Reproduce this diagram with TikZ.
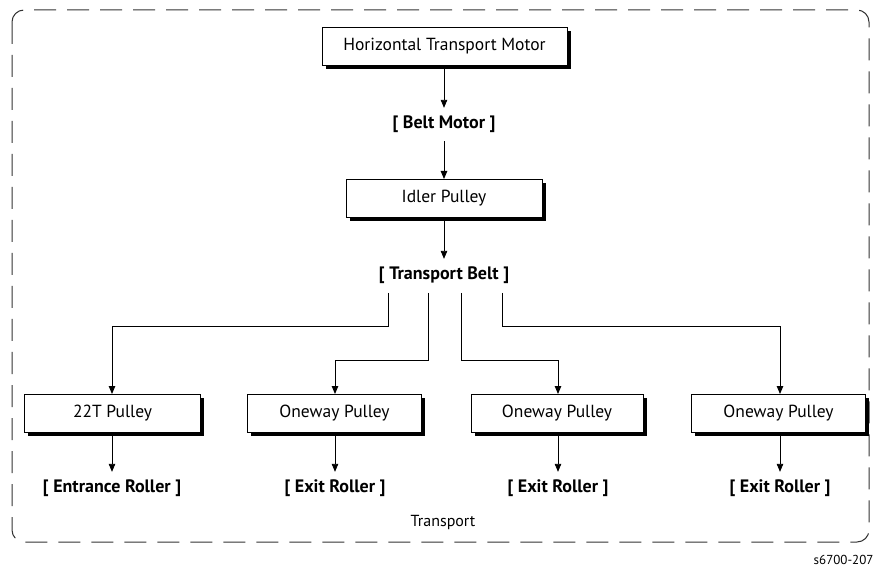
\documentclass[tikz,border=0pt]{standalone}
\usepackage{fontspec}
\setmainfont{PT Sans}
\usetikzlibrary{arrows.meta,shadows}
\begin{document}
\begin{tikzpicture}[x=1pt,y=-1pt,
  box/.style={draw,line width=1pt,fill=white,minimum height=38pt,inner sep=0pt,font=\fontsize{17.5}{20}\selectfont,
    drop shadow={shadow xshift=3.5pt,shadow yshift=-3.5pt,fill=black,opacity=1}},
  lbl/.style={font=\bfseries\fontsize{18}{21}\selectfont,inner xsep=1pt,inner ysep=8pt},
  conn/.style={line width=0.9pt},
  arr/.style={conn,-{Triangle[length=8pt,width=6.5pt]}}]
\useasboundingbox (0,0) rectangle (879,572);
\draw[line width=1pt,dash pattern=on 22pt off 11pt,rounded corners=12pt,draw=black!80] (12,10) rectangle (869,542);
\node[box,minimum width=245pt] (htm) at (444.5,46.5) {Horizontal Transport Motor};
\node[lbl] (bm) at (444,124.5) {[ Belt Motor ]};
\node[box,minimum width=196pt] (idl) at (444,198.5) {Idler Pulley};
\node[lbl] (tb) at (444,275.5) {[ Transport Belt ]};
\node[box,minimum width=176pt] (p1) at (112.5,413.5) {22T Pulley};
\node[box,minimum width=174pt] (p2) at (334.5,413.5) {Oneway Pulley};
\node[box,minimum width=172pt] (p3) at (557,413.5) {Oneway Pulley};
\node[box,minimum width=174pt] (p4) at (778.5,413.5) {Oneway Pulley};
\node[lbl] (r1) at (112,488.5) {[ Entrance Roller ]};
\node[lbl] (r2) at (335,488.5) {[ Exit Roller ]};
\node[lbl] (r3) at (558,488.5) {[ Exit Roller ]};
\node[lbl] (r4) at (780,488.5) {[ Exit Roller ]};
\node[font=\fontsize{16}{18}\selectfont] (tr) at (443,522) {Transport};
\node[font=\fontsize{13}{15}\selectfont,anchor=east] (id) at (877,560) {s6700-207};
\coordinate (s1) at (388,293);
\coordinate (s2) at (428,293);
\coordinate (s3) at (461,293);
\coordinate (s4) at (502,293);
\draw[arr] (htm.south -| bm) -- (bm.north);
\draw[arr] (bm.south) -- (idl.north -| bm);
\draw[arr] (idl.south -| tb) -- (tb.north);
\draw[arr] (s1) -- (388,326) -| (p1.north -| r1);
\draw[arr] (s2) -- (428,360) -| (p2.north -| r2);
\draw[arr] (s3) -- (461,360) -| (p3.north -| r3);
\draw[arr] (s4) -- (502,326) -| (p4.north -| r4);
\draw[arr] (p1.south -| r1) -- (r1.north);
\draw[arr] (p2.south -| r2) -- (r2.north);
\draw[arr] (p3.south -| r3) -- (r3.north);
\draw[arr] (p4.south -| r4) -- (r4.north);
\end{tikzpicture}
\end{document}
